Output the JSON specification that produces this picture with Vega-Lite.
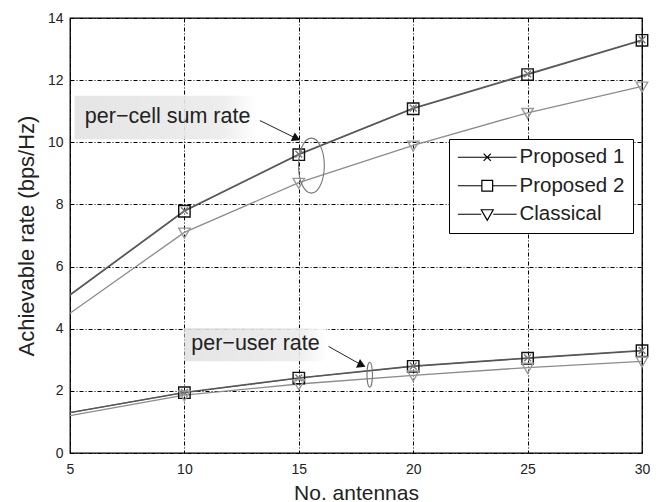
{
  "$schema": "https://vega.github.io/schema/vega-lite/v6.json",
  "width": 572,
  "height": 435,
  "autosize": "none",
  "padding": {"left": 70, "top": 18, "right": 22, "bottom": 49},
  "background": "white",
  "config": {
    "font": "Liberation Sans",
    "view": {"stroke": "black", "strokeWidth": 1.3},
    "axis": {
      "grid": true,
      "gridColor": "black",
      "gridDash": [4, 2, 1, 2],
      "gridWidth": 1,
      "gridOpacity": 1,
      "domain": false,
      "ticks": false,
      "labelFont": "Liberation Sans",
      "labelFontSize": 14,
      "labelColor": "#222",
      "titleFont": "Liberation Sans",
      "titleFontWeight": "normal",
      "titleColor": "#222"
    }
  },
  "datasets": {
    "rates": [
      {"antennas": 5, "rate": 5.1, "scheme": "Proposed 1", "metric": "per-cell"},
      {"antennas": 10, "rate": 7.8, "scheme": "Proposed 1", "metric": "per-cell"},
      {"antennas": 15, "rate": 9.62, "scheme": "Proposed 1", "metric": "per-cell"},
      {"antennas": 20, "rate": 11.1, "scheme": "Proposed 1", "metric": "per-cell"},
      {"antennas": 25, "rate": 12.2, "scheme": "Proposed 1", "metric": "per-cell"},
      {"antennas": 30, "rate": 13.3, "scheme": "Proposed 1", "metric": "per-cell"},
      {"antennas": 5, "rate": 5.08, "scheme": "Proposed 2", "metric": "per-cell"},
      {"antennas": 10, "rate": 7.78, "scheme": "Proposed 2", "metric": "per-cell"},
      {"antennas": 15, "rate": 9.6, "scheme": "Proposed 2", "metric": "per-cell"},
      {"antennas": 20, "rate": 11.08, "scheme": "Proposed 2", "metric": "per-cell"},
      {"antennas": 25, "rate": 12.18, "scheme": "Proposed 2", "metric": "per-cell"},
      {"antennas": 30, "rate": 13.28, "scheme": "Proposed 2", "metric": "per-cell"},
      {"antennas": 5, "rate": 4.5, "scheme": "Classical", "metric": "per-cell"},
      {"antennas": 10, "rate": 7.1, "scheme": "Classical", "metric": "per-cell"},
      {"antennas": 15, "rate": 8.7, "scheme": "Classical", "metric": "per-cell"},
      {"antennas": 20, "rate": 9.9, "scheme": "Classical", "metric": "per-cell"},
      {"antennas": 25, "rate": 10.95, "scheme": "Classical", "metric": "per-cell"},
      {"antennas": 30, "rate": 11.8, "scheme": "Classical", "metric": "per-cell"},
      {"antennas": 5, "rate": 1.3, "scheme": "Proposed 1", "metric": "per-user"},
      {"antennas": 10, "rate": 1.95, "scheme": "Proposed 1", "metric": "per-user"},
      {"antennas": 15, "rate": 2.42, "scheme": "Proposed 1", "metric": "per-user"},
      {"antennas": 20, "rate": 2.8, "scheme": "Proposed 1", "metric": "per-user"},
      {"antennas": 25, "rate": 3.06, "scheme": "Proposed 1", "metric": "per-user"},
      {"antennas": 30, "rate": 3.3, "scheme": "Proposed 1", "metric": "per-user"},
      {"antennas": 5, "rate": 1.3, "scheme": "Proposed 2", "metric": "per-user"},
      {"antennas": 10, "rate": 1.94, "scheme": "Proposed 2", "metric": "per-user"},
      {"antennas": 15, "rate": 2.41, "scheme": "Proposed 2", "metric": "per-user"},
      {"antennas": 20, "rate": 2.79, "scheme": "Proposed 2", "metric": "per-user"},
      {"antennas": 25, "rate": 3.05, "scheme": "Proposed 2", "metric": "per-user"},
      {"antennas": 30, "rate": 3.29, "scheme": "Proposed 2", "metric": "per-user"},
      {"antennas": 5, "rate": 1.2, "scheme": "Classical", "metric": "per-user"},
      {"antennas": 10, "rate": 1.86, "scheme": "Classical", "metric": "per-user"},
      {"antennas": 15, "rate": 2.22, "scheme": "Classical", "metric": "per-user"},
      {"antennas": 20, "rate": 2.5, "scheme": "Classical", "metric": "per-user"},
      {"antennas": 25, "rate": 2.75, "scheme": "Classical", "metric": "per-user"},
      {"antennas": 30, "rate": 2.95, "scheme": "Classical", "metric": "per-user"}
    ],
    "notes": [
      {"label": "per\u2212cell sum rate", "x": 5.65, "y": 10.8, "x0": 5.2, "x1": 13.2, "y0": 10.1, "y1": 11.5, "ax": 13.3, "ay": 10.7, "tx": 14.9, "ty": 10.12},
      {"label": "per\u2212user rate", "x": 10.3, "y": 3.5, "x0": 10.0, "x1": 16.2, "y0": 2.95, "y1": 4.02, "ax": 16.3, "ay": 3.43, "tx": 17.75, "ty": 2.83}
    ],
    "rings": [
      {"group": "per-cell", "antennas": 15.55, "rate": 9.25},
      {"group": "per-user", "antennas": 18.1, "rate": 2.52}
    ]
  },
  "data": {"name": "rates"},
  "encoding": {
    "x": {
      "field": "antennas", "type": "quantitative",
      "scale": {"domain": [5, 30], "nice": false},
      "axis": {"values": [5, 10, 15, 20, 25, 30], "title": "No. antennas", "titleFontSize": 21, "labelPadding": 9, "titlePadding": 6, "labelFlush": false}
    },
    "y": {
      "field": "rate", "type": "quantitative",
      "scale": {"domain": [0, 14], "nice": false},
      "axis": {"values": [0, 2, 4, 6, 8, 10, 12, 14], "title": "Achievable rate (bps/Hz)", "titleFontSize": 22, "labelPadding": 7, "titlePadding": 9, "labelFlush": false}
    }
  },
  "layer": [
    {
      "data": {"name": "notes"},
      "mark": {
        "type": "rect",
        "fill": {"gradient": "linear", "x1": 0, "y1": 0, "x2": 1, "y2": 0,
                 "stops": [{"offset": 0, "color": "#e2e2e2"}, {"offset": 0.8, "color": "#ebebeb"}, {"offset": 1, "color": "#ffffff"}]},
        "opacity": 0.9
      },
      "encoding": {
        "x": {"field": "x0", "type": "quantitative"},
        "x2": {"field": "x1"},
        "y": {"field": "y0", "type": "quantitative"},
        "y2": {"field": "y1"}
      }
    },
    {
      "mark": {"type": "line", "strokeWidth": 1.3},
      "encoding": {
        "color": {
          "field": "scheme", "type": "nominal", "legend": null,
          "scale": {"domain": ["Proposed 1", "Proposed 2", "Classical"], "range": ["#6a6a6a", "#555555", "#8c8c8c"]}
        },
        "detail": {"field": "metric"}
      }
    },
    {
      "transform": [{"filter": "datum.antennas > 5"}],
      "mark": {"type": "point", "filled": false, "strokeWidth": 1.4, "opacity": 1},
      "encoding": {
        "shape": {
          "field": "scheme", "type": "nominal", "legend": null,
          "scale": {"domain": ["Proposed 1", "Proposed 2", "Classical"],
                    "range": ["M-0.6,-0.6L0.6,0.6M-0.6,0.6L0.6,-0.6", "M-1,-1H1V1H-1Z", "M-1,-0.75L1,-0.75L0,1Z"]}
        },
        "stroke": {
          "field": "scheme", "type": "nominal", "legend": null,
          "scale": {"domain": ["Proposed 1", "Proposed 2", "Classical"], "range": ["#777777", "#111111", "#9a9a9a"]}
        },
        "size": {"value": 130}
      }
    },
    {
      "mark": {"type": "point", "opacity": 0, "filled": false},
      "encoding": {
        "shape": {
          "field": "scheme", "type": "nominal",
          "scale": {"domain": ["Proposed 1", "Proposed 2", "Classical"],
                    "range": ["M-4.9,0H4.9M-0.6,-0.6L0.6,0.6M-0.6,0.6L0.6,-0.6", "M-4.9,0H-0.9M0.9,0H4.9M-0.9,-0.9H0.9V0.9H-0.9Z", "M-4.9,0H-1M1,0H4.9M-1,-0.75L1,-0.75L0,1Z"]},
          "legend": {
            "title": null,
            "orient": "none",
            "legendX": 379,
            "legendY": 121,
            "direction": "vertical",
            "strokeColor": "black",
            "fillColor": "white",
            "padding": 8,
            "symbolSize": 144,
            "symbolStrokeColor": "black",
            "symbolStrokeWidth": 1.2,
            "symbolOpacity": 1,
            "symbolOffset": 20,
            "labelOffset": 22,
            "labelFontSize": 20.5,
            "labelColor": "#222",
            "labelFont": "Liberation Sans",
            "rowPadding": 7.5,
            "labelLimit": 300
          }
        }
      }
    },
    {
      "data": {"name": "notes"},
      "mark": {"type": "rule", "color": "#222", "strokeWidth": 1},
      "encoding": {
        "x": {"field": "ax", "type": "quantitative"},
        "y": {"field": "ay", "type": "quantitative"},
        "x2": {"field": "tx"},
        "y2": {"field": "ty"}
      }
    },
    {
      "data": {"name": "notes"},
      "mark": {"type": "point", "shape": "triangle-right", "filled": true, "color": "#111", "size": 90, "angle": 25, "opacity": 1},
      "encoding": {
        "x": {"field": "tx", "type": "quantitative"},
        "y": {"field": "ty", "type": "quantitative"}
      }
    },
    {
      "data": {"name": "rings"},
      "transform": [{"filter": "datum.group == 'per-cell'"}],
      "mark": {"type": "point", "shape": "M0,-1A0.47,1 0 1,1 0,1A0.47,1 0 1,1 0,-1", "size": 3025, "filled": false, "color": "#777", "strokeWidth": 1.1, "opacity": 1},
      "encoding": {
        "x": {"field": "antennas", "type": "quantitative"},
        "y": {"field": "rate", "type": "quantitative"}
      }
    },
    {
      "data": {"name": "rings"},
      "transform": [{"filter": "datum.group == 'per-user'"}],
      "mark": {"type": "point", "shape": "M0,-1A0.22,1 0 1,1 0,1A0.22,1 0 1,1 0,-1", "size": 625, "filled": false, "color": "#777", "strokeWidth": 1.1, "opacity": 1},
      "encoding": {
        "x": {"field": "antennas", "type": "quantitative"},
        "y": {"field": "rate", "type": "quantitative"}
      }
    },
    {
      "data": {"name": "notes"},
      "mark": {"type": "text", "align": "left", "baseline": "middle", "fontSize": 21.5, "color": "#222", "font": "Liberation Sans"},
      "encoding": {
        "x": {"field": "x", "type": "quantitative"},
        "y": {"field": "y", "type": "quantitative"},
        "text": {"field": "label"}
      }
    }
  ],
  "resolve": {"scale": {"shape": "independent", "color": "independent"}}
}
